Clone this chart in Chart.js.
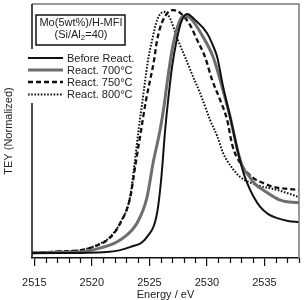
<!DOCTYPE html>
<html>
<head>
<meta charset="utf-8">
<script src="https://cdn.jsdelivr.net/npm/chart.js@4"></script>
<style>
  html, body { margin: 0; padding: 0; background: #fff; }
  #wrap { width: 305px; height: 300px; }
</style>
</head>
<body>
<div id="wrap"><canvas id="xanes" width="305" height="300"></canvas></div>
<script>
// --- data (energy in eV, TEY normalized) ---
const seriesLabels = ['Before React.', 'React. 700\u00B0C', 'React. 750\u00B0C', 'React. 800\u00B0C'];

const eBefore = [2514.8, 2517.2, 2521.3, 2523.3, 2524.8, 2525.67, 2526.02, 2526.37, 2526.63, 2526.97, 2527.37, 2527.76, 2528.28, 2528.97, 2530.0, 2530.5, 2530.89, 2531.41, 2532.02, 2532.72, 2533.15, 2533.5, 2534.02, 2534.63, 2535.32, 2536.1, 2537.05, 2538.0];
const yBefore = [0.020, 0.020, 0.024, 0.043, 0.083, 0.177, 0.307, 0.504, 0.622, 0.752, 0.858, 0.929, 0.961, 0.937, 0.886, 0.839, 0.791, 0.673, 0.555, 0.413, 0.339, 0.295, 0.244, 0.201, 0.173, 0.157, 0.146, 0.142];

const e700 = [2514.8, 2517.2, 2519.0, 2520.7, 2522.45, 2523.93, 2524.8, 2525.32, 2525.93, 2526.28, 2526.54, 2526.97, 2527.41, 2527.93, 2528.54, 2529.67, 2530.54, 2531.32, 2532.02, 2532.72, 2533.15, 2533.58, 2534.19, 2534.89, 2536.37, 2538.0];
const y700 = [0.020, 0.022, 0.024, 0.039, 0.071, 0.138, 0.240, 0.374, 0.504, 0.600, 0.689, 0.819, 0.906, 0.953, 0.945, 0.870, 0.791, 0.673, 0.555, 0.413, 0.354, 0.327, 0.291, 0.268, 0.228, 0.217];

const e750 = [2514.8, 2517.2, 2519.0, 2520.45, 2521.58, 2522.45, 2523.32, 2523.8, 2524.28, 2524.71, 2525.41, 2525.67, 2526.19, 2527.06, 2527.67, 2528.54, 2529.15, 2529.84, 2530.45, 2531.15, 2531.76, 2532.2, 2532.89, 2534.02, 2534.89, 2535.76, 2538.0];
const y750 = [0.020, 0.026, 0.031, 0.049, 0.080, 0.135, 0.236, 0.370, 0.504, 0.622, 0.780, 0.858, 0.937, 0.976, 0.965, 0.917, 0.858, 0.791, 0.701, 0.622, 0.543, 0.445, 0.374, 0.315, 0.295, 0.280, 0.268];

const e800 = [2514.8, 2517.2, 2519.0, 2520.45, 2521.58, 2522.45, 2523.32, 2523.72, 2524.06, 2524.41, 2524.89, 2525.24, 2525.67, 2526.26, 2526.78, 2527.41, 2528.1, 2528.8, 2529.4, 2530.28, 2530.89, 2531.41, 2532.2, 2532.89, 2534.37, 2536.1, 2538.0];
const y800 = [0.020, 0.026, 0.031, 0.051, 0.083, 0.138, 0.240, 0.374, 0.504, 0.622, 0.780, 0.858, 0.937, 0.969, 0.945, 0.866, 0.791, 0.713, 0.650, 0.543, 0.480, 0.413, 0.354, 0.319, 0.287, 0.268, 0.240];

const xTickValues = [2515, 2520, 2525, 2530, 2535];

const FONT = "'Liberation Sans', Arial, sans-serif";
Chart.defaults.font.family = FONT;
Chart.defaults.color = '#222';

function toPoints(xs, ys) {
    return xs.map((x, i) => ({ x: x, y: ys[i] }));
}

// frame, minor ticks, y title, sample box and legend
const decorPlugin = {
    id: 'decor',
    afterDraw(chart) {
        const ctx = chart.ctx;
        const a = chart.chartArea;
        const xs = chart.scales.x;
        ctx.save();

        // top + right frame (grey), left axis (black)
        ctx.strokeStyle = '#7a7a7a';
        ctx.lineWidth = 1.5;
        ctx.beginPath();
        ctx.moveTo(a.left, a.top);
        ctx.lineTo(a.right, a.top);
        ctx.lineTo(a.right, a.bottom);
        ctx.stroke();
        ctx.strokeStyle = '#111';
        ctx.beginPath();
        ctx.moveTo(a.left, a.top);
        ctx.lineTo(a.left, a.bottom);
        ctx.stroke();

        // minor ticks every 1 eV
        ctx.lineWidth = 1.2;
        for (let v = Math.ceil(xs.min); v <= xs.max; v++) {
            if (v % 5 === 0) continue;
            const px = Math.round(xs.getPixelForValue(v)) + 0.5;
            ctx.beginPath();
            ctx.moveTo(px, a.bottom);
            ctx.lineTo(px, a.bottom + 5);
            ctx.stroke();
        }

        // y axis title
        ctx.fillStyle = '#222';
        ctx.font = '11px ' + FONT;
        ctx.textAlign = 'center';
        ctx.textBaseline = 'middle';
        ctx.save();
        ctx.translate(9, (a.top + a.bottom) / 2);
        ctx.rotate(-Math.PI / 2);
        ctx.fillText('TEY (Normalized)', 0, 0);
        ctx.restore();

        // sample label box
        ctx.strokeStyle = '#111';
        ctx.lineWidth = 1.5;
        ctx.strokeRect(36, 15, 89, 30);
        ctx.fillText('Mo(5wt%)/H-MFI', 81, 23);
        const p1 = '(Si/Al', p2 = '2', p3 = '=40)';
        const w1 = ctx.measureText(p1).width;
        const w3 = ctx.measureText(p3).width;
        ctx.font = '8px ' + FONT;
        const w2 = ctx.measureText(p2).width;
        let sx = 81 - (w1 + w2 + w3) / 2;
        ctx.textAlign = 'left';
        ctx.font = '11px ' + FONT;
        ctx.fillText(p1, sx, 34.5);
        ctx.font = '8px ' + FONT;
        ctx.fillText(p2, sx + w1, 37.5);
        ctx.font = '11px ' + FONT;
        ctx.fillText(p3, sx + w1 + w2, 34.5);

        // legend (white behind, covers the axis like the original)
        ctx.fillStyle = '#fff';
        ctx.fillRect(26, 49, 115, 54);
        const rows = [58, 70, 82, 94.5];
        chart.data.datasets.forEach((ds, i) => {
            const y = rows[i];
            ctx.strokeStyle = ds.borderColor;
            ctx.lineWidth = ds.borderWidth;
            ctx.setLineDash(ds.borderDash || []);
            ctx.beginPath();
            ctx.moveTo(28, y);
            ctx.lineTo(63, y);
            ctx.stroke();
            ctx.setLineDash([]);
            ctx.fillStyle = '#222';
            ctx.fillText(ds.label, 67, y + 0.5);
        });

        ctx.restore();
    }
};

new Chart(document.getElementById('xanes'), {
    type: 'line',
    data: {
        datasets: [
            { label: seriesLabels[0], data: toPoints(eBefore, yBefore), borderColor: '#111', borderWidth: 2 },
            { label: seriesLabels[1], data: toPoints(e700, y700), borderColor: '#6e6e6e', borderWidth: 3 },
            { label: seriesLabels[2], data: toPoints(e750, y750), borderColor: '#111', borderWidth: 2.3, borderDash: [5, 3] },
            { label: seriesLabels[3], data: toPoints(e800, y800), borderColor: '#111', borderWidth: 2, borderDash: [1.6, 1.6] }
        ]
    },
    options: {
        responsive: false,
        animation: false,
        layout: { padding: { left: 32, right: 6, top: 4, bottom: -2 } },
        elements: {
            point: { radius: 0 },
            line: { cubicInterpolationMode: 'monotone', fill: false }
        },
        plugins: {
            legend: { display: false },
            tooltip: { enabled: false }
        },
        scales: {
            x: {
                type: 'linear',
                min: 2514.8,
                max: 2538,
                afterBuildTicks: (scale) => {
                    scale.ticks = xTickValues.map(v => ({ value: v }));
                },
                afterFit: (scale) => {
                    scale.height = 44;
                },
                ticks: {
                    font: { size: 11 },
                    color: '#222',
                    padding: 10,
                    maxRotation: 0,
                    callback: (v) => String(v)
                },
                grid: { drawOnChartArea: false, tickLength: 8, color: '#111', lineWidth: 1.2 },
                border: { color: '#111', width: 1.5 },
                title: {
                    display: true,
                    text: 'Energy / eV',
                    font: { size: 11 },
                    color: '#222',
                    padding: { top: 0, bottom: 0 }
                }
            },
            y: {
                display: false,
                min: 0,
                max: 1
            }
        }
    },
    plugins: [decorPlugin]
});
</script>
</body>
</html>
